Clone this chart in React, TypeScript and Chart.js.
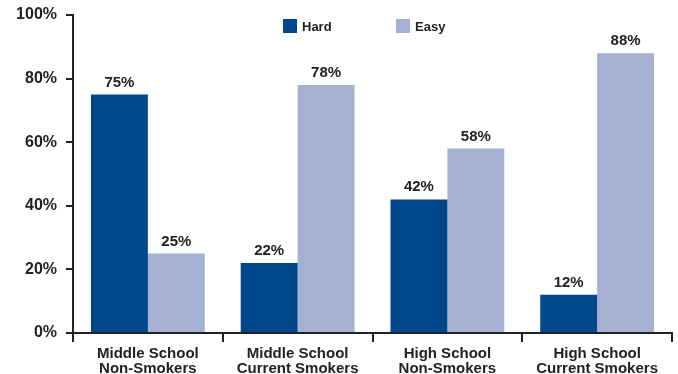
import React, { useEffect, useRef } from "react";
import { Chart, registerables } from "chart.js";

Chart.register(...registerables);

const categories: string[][] = [
  ["Middle School", "Non-Smokers"],
  ["Middle School", "Current Smokers"],
  ["High School", "Non-Smokers"],
  ["High School", "Current Smokers"],
];
const seriesNames = ["Hard", "Easy"];
const hardValues = [75, 22, 42, 12];
const easyValues = [25, 78, 58, 88];
const yTickValues = [0, 20, 40, 60, 80, 100];
const seriesColors = ["#00478B", "#A4B1D3"];

const FONT = "'Liberation Sans', Arial, Helvetica, sans-serif";
const INK = "#222222";

const valueLabels = {
  id: "valueLabels",
  afterDatasetsDraw(chart: any) {
    const ctx = chart.ctx;
    ctx.save();
    ctx.font = `bold 15px ${FONT}`;
    ctx.fillStyle = INK;
    ctx.textAlign = "center";
    ctx.textBaseline = "alphabetic";
    chart.data.datasets.forEach((ds: any, i: number) => {
      const meta = chart.getDatasetMeta(i);
      meta.data.forEach((bar: any, j: number) => {
        ctx.fillText(`${ds.data[j]}%`, bar.x, bar.y - 8);
      });
    });
    ctx.restore();
  },
};

const customLegend = {
  id: "customLegend",
  afterDraw(chart: any) {
    const ctx = chart.ctx;
    const area = chart.chartArea;
    ctx.save();
    ctx.font = `bold 13px ${FONT}`;
    ctx.textBaseline = "middle";
    ctx.textAlign = "left";
    let x = area.left + 210;
    const y = 19;
    chart.data.datasets.forEach((ds: any) => {
      ctx.fillStyle = ds.backgroundColor;
      ctx.fillRect(x, y, 14, 14);
      ctx.fillStyle = INK;
      ctx.fillText(ds.label, x + 19, y + 8);
      x += 113;
    });
    ctx.restore();
  },
};

export default function App() {
  const canvasRef = useRef<HTMLCanvasElement | null>(null);

  useEffect(() => {
    if (!canvasRef.current) return;
    const chart = new Chart(canvasRef.current, {
      type: "bar",
      data: {
        labels: categories,
        datasets: [
          {
            label: seriesNames[0],
            data: hardValues,
            backgroundColor: seriesColors[0],
            borderWidth: 0,
          },
          {
            label: seriesNames[1],
            data: easyValues,
            backgroundColor: seriesColors[1],
            borderWidth: 0,
          },
        ],
      },
      options: {
        responsive: false,
        animation: false,
        layout: { padding: { top: 15, right: 6, left: 0, bottom: 0 } },
        plugins: {
          legend: { display: false },
          tooltip: { enabled: false },
        },
        datasets: {
          bar: { categoryPercentage: 0.76, barPercentage: 1.0 },
        },
        scales: {
          x: {
            offset: true,
            grid: {
              offset: true,
              drawOnChartArea: false,
              drawTicks: true,
              tickLength: 9,
              color: INK,
              lineWidth: 2,
            },
            border: { display: true, color: INK, width: 2 },
            ticks: {
              color: INK,
              padding: 4,
              maxRotation: 0,
              autoSkip: false,
              font: { family: FONT, size: 15, weight: "bold", lineHeight: 1.0 },
            },
            afterFit(scale: any) {
              scale.height = 41;
            },
          },
          y: {
            min: 0,
            max: 100,
            afterBuildTicks(scale: any) {
              scale.ticks = yTickValues.map((v) => ({ value: v }));
            },
            grid: {
              drawOnChartArea: false,
              drawTicks: true,
              tickLength: 7,
              color: INK,
              lineWidth: 2,
            },
            border: { display: true, color: INK, width: 2 },
            ticks: {
              color: INK,
              padding: 9,
              font: { family: FONT, size: 16, weight: "bold", lineHeight: 1.0 },
              callback: (v: any) => `${v}%`,
            },
            afterFit(scale: any) {
              scale.width = 73;
              scale.paddingTop = 0;
              scale.paddingBottom = 0;
            },
          },
        },
      },
      plugins: [valueLabels, customLegend],
    });
    return () => chart.destroy();
  }, []);

  return (
    <div style={{ position: "absolute", left: 0, top: 0, width: 678, height: 374, background: "#fff" }}>
      <canvas ref={canvasRef} width={678} height={374} style={{ display: "block" }} />
    </div>
  );
}
